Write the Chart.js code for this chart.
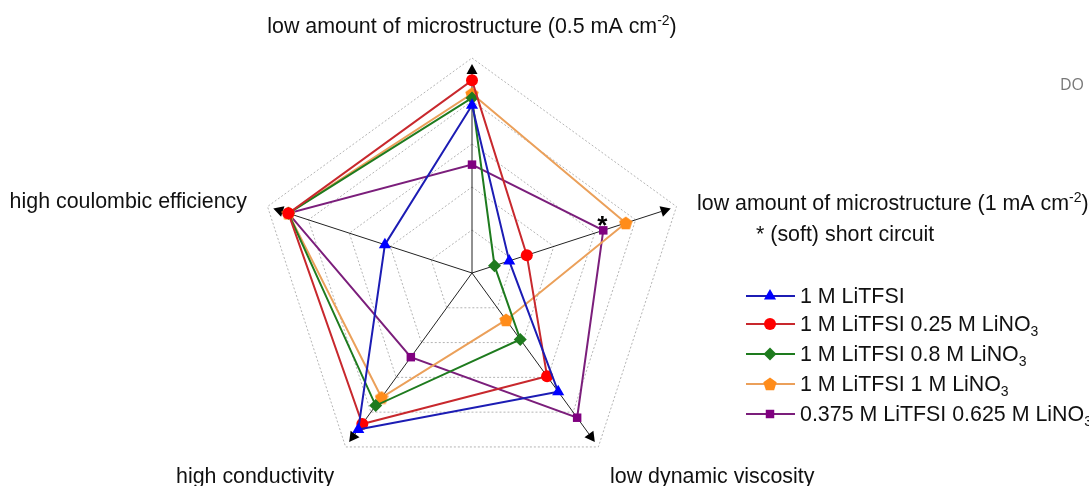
<!DOCTYPE html>
<html>
<head>
<meta charset="utf-8">
<script src="https://cdn.jsdelivr.net/npm/chart.js@4.4.1/dist/chart.umd.min.js"></script>
<style>
html, body { margin: 0; padding: 0; background: #fff; overflow: hidden; }
</style>
</head>
<body>
<canvas id="myChart" width="1089" height="500"></canvas>
<script>
// axes, clockwise from the top
let labels = [
    "low amount of microstructure (0.5 mA cm⁻²)",
    "low amount of microstructure (1 mA cm⁻²)",
    "low dynamic viscosity",
    "high conductivity",
    "high coulombic efficiency"
];
let seriesNames = [
    "1 M LiTFSI",
    "1 M LiTFSI 0.25 M LiNO₃",
    "1 M LiTFSI 0.8 M LiNO₃",
    "1 M LiTFSI 1 M LiNO₃",
    "0.375 M LiTFSI 0.625 M LiNO₃"
];
let liTFSI       = [3.9, 0.91, 3.41, 4.5, 2.13];
let nitrate025   = [4.48, 1.34, 2.97, 4.34, 4.49];
let nitrate08    = [4.07, 0.55, 1.91, 3.81, 4.49];
let nitrate1     = [4.17, 3.76, 1.35, 3.58, 4.49];
let mixed0375    = [2.52, 3.21, 4.16, 2.42, 4.49];
let gridTicks    = [0, 1, 2, 3, 4, 5];
let shortCircuitNote = "* (soft) short circuit";

const FONT = '21.4px "Liberation Sans", Arial, sans-serif';
const SMALL = '14px "Liberation Sans", Arial, sans-serif';

function pentagon(size, color) {
    let c = document.createElement('canvas');
    c.width = size;
    c.height = size;
    let g = c.getContext('2d');
    g.fillStyle = color;
    g.beginPath();
    for (let i = 0; i < 5; i++) {
        let a = -Math.PI / 2 + i * 2 * Math.PI / 5;
        let x = size / 2 + size / 2 * Math.cos(a);
        let y = size / 2 + 0.5 + size / 2 * Math.sin(a);
        if (i === 0) g.moveTo(x, y); else g.lineTo(x, y);
    }
    g.closePath();
    g.fill();
    return c;
}

let styles = [
    { line: '#1c1cb4', point: '#0000ff', shape: 'triangle', r: 7 },
    { line: '#c8282d', point: '#ff0000', shape: 'circle', r: 6 },
    { line: '#1e7b1e', point: '#1e7b1e', shape: 'rectRot', r: 6.5 },
    { line: '#eba05a', point: '#ff8c1a', shape: pentagon(14, '#ff8c1a'), r: 6.5 },
    { line: '#7b1e7b', point: '#800080', shape: 'rect', r: 6 }
];
let seriesData = [liTFSI, nitrate025, nitrate08, nitrate1, mixed0375];

// draw text with unicode super/subscripts as small raised/lowered digits
let supMap = { '⁻': '-', '²': '2' };
let subMap = { '₃': '3' };
function splitRich(str) {
    let parts = [];
    for (let ch of str) {
        let kind = supMap[ch] ? 'sup' : (subMap[ch] ? 'sub' : 'n');
        let t = supMap[ch] || subMap[ch] || ch;
        if (parts.length && parts[parts.length - 1].kind === kind) parts[parts.length - 1].t += t;
        else parts.push({ kind: kind, t: t });
    }
    return parts;
}
function drawRich(ctx, str, x, y, align) {
    let parts = splitRich(str);
    let total = 0;
    parts.forEach(p => {
        ctx.font = p.kind === 'n' ? FONT : SMALL;
        p.w = ctx.measureText(p.t).width;
        total += p.w;
    });
    let cx = align === 'center' ? x - total / 2 : (align === 'right' ? x - total : x);
    ctx.textAlign = 'left';
    ctx.textBaseline = 'alphabetic';
    parts.forEach(p => {
        ctx.font = p.kind === 'n' ? FONT : SMALL;
        let dy = p.kind === 'sup' ? -8 : (p.kind === 'sub' ? 5 : 0);
        ctx.fillText(p.t, cx, y + dy);
        cx += p.w;
    });
}

let axesPlugin = {
    id: 'axes',
    beforeDatasetsDraw(chart) {
        let ctx = chart.ctx;
        let scale = chart.scales.r;
        ctx.save();
        ctx.strokeStyle = '#222';
        ctx.fillStyle = '#000';
        ctx.lineWidth = 1;
        for (let i = 0; i < labels.length; i++) {
            let tip = scale.getPointPosition(i, scale.getDistanceFromCenterForValue(4.86));
            let base = scale.getPointPosition(i, scale.getDistanceFromCenterForValue(4.86) - 10);
            ctx.beginPath();
            ctx.moveTo(scale.xCenter, scale.yCenter);
            ctx.lineTo(base.x, base.y);
            ctx.stroke();
            let dx = tip.x - base.x, dy = tip.y - base.y;
            let len = Math.hypot(dx, dy);
            let nx = -dy / len * 5.5, ny = dx / len * 5.5;
            ctx.beginPath();
            ctx.moveTo(tip.x, tip.y);
            ctx.lineTo(base.x + nx, base.y + ny);
            ctx.lineTo(base.x - nx, base.y - ny);
            ctx.closePath();
            ctx.fill();
        }
        ctx.restore();
    },
    afterDraw(chart) {
        let ctx = chart.ctx;
        let scale = chart.scales.r;
        ctx.save();
        ctx.fillStyle = '#111';
        drawRich(ctx, labels[0], 472, 33, 'center');
        drawRich(ctx, labels[1], 697, 210, 'left');
        drawRich(ctx, shortCircuitNote, 756, 241, 'left');
        drawRich(ctx, labels[2], 610, 483, 'left');
        drawRich(ctx, labels[3], 176, 483, 'left');
        drawRich(ctx, labels[4], 247, 208, 'right');

        // asterisk above the short-circuit point
        let p = scale.getPointPosition(1, scale.getDistanceFromCenterForValue(mixed0375[1]));
        ctx.font = 'bold 26px "Liberation Sans", Arial, sans-serif';
        ctx.textAlign = 'center';
        ctx.textBaseline = 'alphabetic';
        ctx.fillStyle = '#000';
        ctx.fillText('*', p.x - 1, p.y + 4);

        // watermark fragment
        ctx.font = '16px "Open Sans", sans-serif';
        ctx.fillStyle = '#777';
        ctx.textAlign = 'left';
        ctx.fillText('DO', 1060, 90);

        // legend
        let rows = [296, 324, 354, 384, 414];
        for (let i = 0; i < seriesNames.length; i++) {
            let s = styles[i];
            ctx.strokeStyle = s.line;
            ctx.lineWidth = 2;
            ctx.beginPath();
            ctx.moveTo(746, rows[i]);
            ctx.lineTo(795, rows[i]);
            ctx.stroke();
            ctx.fillStyle = s.point;
            ctx.strokeStyle = s.point;
            Chart.helpers.drawPoint(ctx, { pointStyle: s.shape, radius: s.r, rotation: 0, borderWidth: 0 }, 770, rows[i]);
            ctx.fillStyle = '#111';
            drawRich(ctx, seriesNames[i], 800, rows[i] + 7, 'left');
        }
        ctx.restore();
    }
};

let ctx = document.getElementById('myChart').getContext('2d');
let chart = new Chart(ctx, {
    type: 'radar',
    data: {
        labels: labels,
        datasets: seriesNames.map((name, i) => ({
            label: name,
            data: seriesData[i],
            borderColor: styles[i].line,
            backgroundColor: 'transparent',
            borderWidth: 2,
            fill: false,
            pointStyle: styles[i].shape,
            pointRadius: styles[i].r,
            pointBackgroundColor: styles[i].point,
            pointBorderColor: styles[i].point,
            pointBorderWidth: 0
        }))
    },
    plugins: [axesPlugin],
    options: {
        responsive: false,
        animation: false,
        layout: { padding: { left: 257, right: 402, top: 58, bottom: 12 } },
        plugins: { legend: { display: false }, tooltip: { enabled: false } },
        scales: {
            r: {
                min: gridTicks[0],
                max: gridTicks[gridTicks.length - 1],
                ticks: { display: false, stepSize: 1 },
                pointLabels: { display: false },
                angleLines: { display: false },
                grid: { color: '#b4b4b4', lineWidth: 1 },
                border: { dash: [2, 2] }
            }
        }
    }
});
</script>
</body>
</html>
